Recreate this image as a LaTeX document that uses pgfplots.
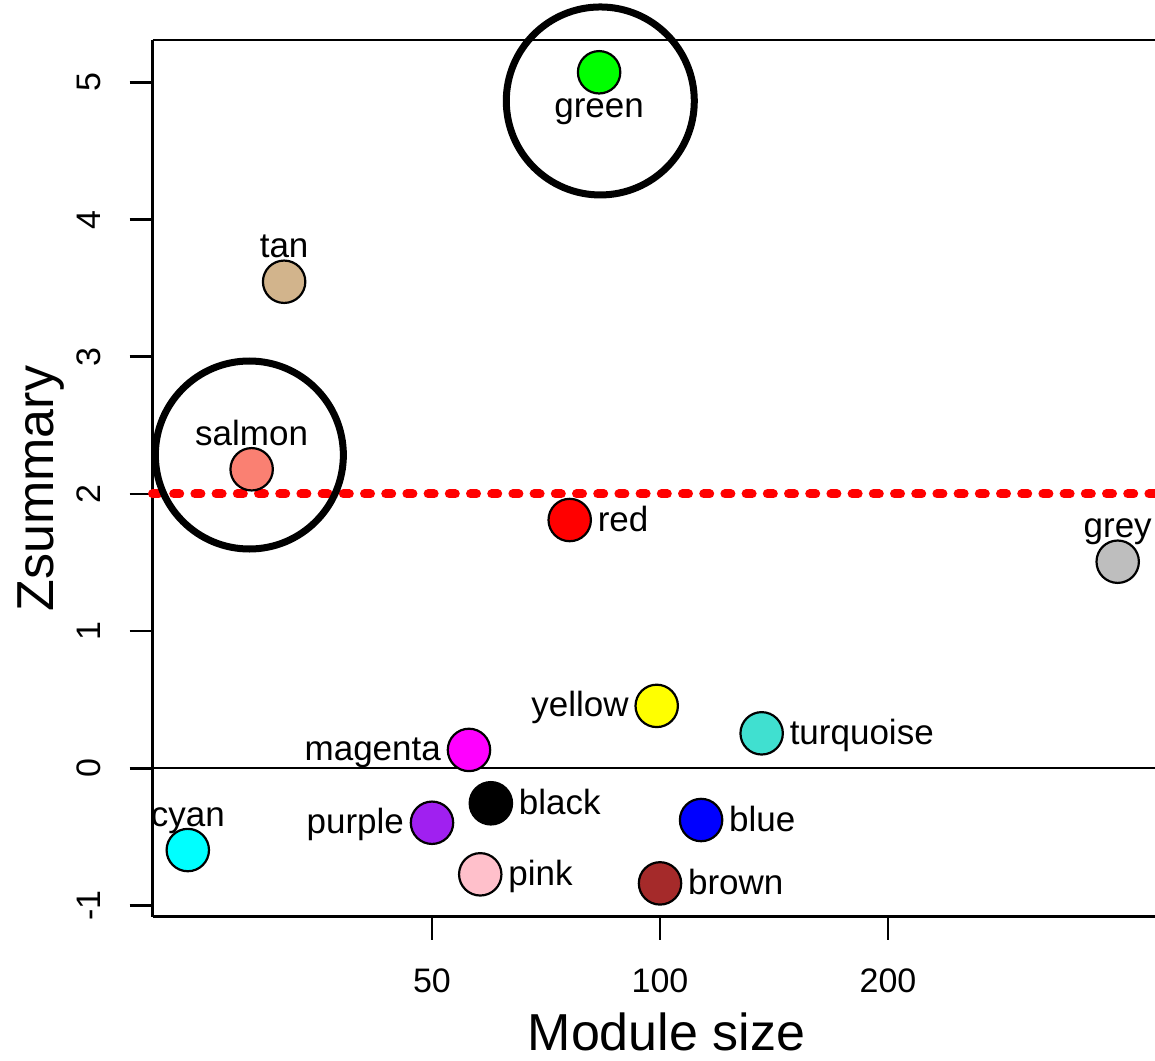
\documentclass[border=0pt]{standalone}
\usepackage{pgfplots}
\pgfplotsset{compat=1.18}
\usepackage{fontspec}
\setmainfont{Liberation Sans}
\definecolor{cCyan}{HTML}{00FFFF}
\definecolor{cSalmon}{HTML}{FA8072}
\definecolor{cTan}{HTML}{D2B48C}
\definecolor{cGreen}{HTML}{00FF00}
\definecolor{cRed}{HTML}{FF0000}
\definecolor{cGrey}{HTML}{BEBEBE}
\definecolor{cYellow}{HTML}{FFFF00}
\definecolor{cTurq}{HTML}{40E0D0}
\definecolor{cMagenta}{HTML}{FF00FF}
\definecolor{cBlack}{HTML}{000000}
\definecolor{cPurple}{HTML}{A020F0}
\definecolor{cBlue}{HTML}{0000FF}
\definecolor{cPink}{HTML}{FFC0CB}
\definecolor{cBrown}{HTML}{A52A2A}
\newcommand{\labfont}{\fontsize{17.5}{20}\selectfont}
\newcommand{\tickfont}{\fontsize{17}{20}\selectfont}
\pgfplotsset{
  pt/.style={only marks, mark=*, mark size=10.6pt, mark options={fill=#1, draw=black, line width=1.1pt, solid}},
  labA/.style={nodes near coords={#1}, every node near coord/.append style={anchor=base, yshift=12pt}},
  labB/.style={nodes near coords={#1}, every node near coord/.append style={anchor=base, yshift=-22.5pt}},
  labR/.style={nodes near coords={#1}, every node near coord/.append style={anchor=base west, xshift=13.5pt, yshift=-5.5pt}},
  labL/.style={nodes near coords={#1}, every node near coord/.append style={anchor=base east, xshift=-13.5pt, yshift=-5.5pt}},
}
\begin{document}
\begin{tikzpicture}
\begin{axis}[
  at={(0,0)}, anchor=south west,
  scale only axis, width=501.25pt, height=438.25pt,
  xmode=log, xmin=21.38, xmax=450.3, ymin=-1.0804, ymax=5.3095,
  axis x line=bottom, axis y line=left,
  axis line style={-, line width=1.35pt, black},
  tick align=outside, major tick length=11.5pt,
  tick style={line width=1.35pt, black},
  xminorticks=false, yminorticks=false,
  xtick={50,100,200}, xticklabels={50,100,200},
  ytick={-1,0,1,2,3,4,5}, yticklabels={-1,0,1,2,3,4,5},
  tick label style={font=\tickfont},
  yticklabel style={rotate=90, anchor=base},
  xticklabel style={anchor=base},
  yticklabel shift=14.5pt, xticklabel shift=26.5pt,
  xlabel={Module size}, ylabel={Zsummary},
  every axis x label/.style={at={([yshift=-66.75pt]axis description cs:0.5127,0)}, anchor=base, font=\fontsize{26}{30}\selectfont},
  every axis y label/.style={at={([xshift=-49.5pt]axis description cs:0,0.488)}, rotate=90, anchor=base, font=\fontsize{26}{30}\selectfont},
  every node near coord/.append style={inner sep=0pt, text=black, font=\labfont},
  clip=false,
]
% large highlight circles
\addplot[only marks, mark=o, mark size=47pt, mark options={line width=3.5pt, draw=black}] coordinates {(83.4,4.865) (28.7,2.284)};
% modules
\addplot[pt=cCyan, labA=cyan] coordinates {(23.8,-0.596)};
\addplot[pt=cSalmon, labA=salmon] coordinates {(28.9,2.18)};
\addplot[pt=cTan, labA=tan] coordinates {(31.9,3.547)};
\addplot[pt=cGreen, labB=green] coordinates {(83.1,5.074)};
\addplot[pt=cRed, labR=red] coordinates {(76.0,1.81)};
\addplot[pt=cGrey, labA=grey] coordinates {(402,1.506)};
\addplot[pt=cYellow, labL=yellow] coordinates {(99.0,0.455)};
\addplot[pt=cTurq, labR=turquoise] coordinates {(136.2,0.255)};
\addplot[pt=cMagenta, labL=magenta] coordinates {(55.95,0.134)};
\addplot[pt=cBlack, labR=black] coordinates {(59.8,-0.255)};
\addplot[pt=cPurple, labL=purple] coordinates {(50.0,-0.397)};
\addplot[pt=cBlue, labR=blue] coordinates {(113.3,-0.377)};
\addplot[pt=cPink, labR=pink] coordinates {(57.9,-0.773)};
\addplot[pt=cBrown, labR=brown] coordinates {(100.0,-0.839)};
% reference lines
\addplot[black, line width=1pt] coordinates {(21.38,0) (450.3,0)};
\addplot[red, line width=4.5pt, line cap=round, dash pattern=on 3pt off 7.6pt] coordinates {(21.38,2) (450.3,2)};
\draw[line width=1.35pt] (rel axis cs:0,1) -- (rel axis cs:1,1);
\end{axis}
\pgfresetboundingbox
\path[use as bounding box] (-76.25pt,-71.75pt) rectangle (501.25pt,458.25pt);
\end{tikzpicture}
\end{document}
